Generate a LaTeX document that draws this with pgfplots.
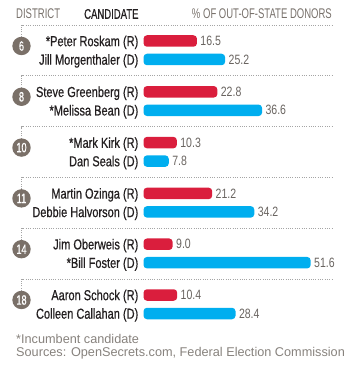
\documentclass[border=0pt]{standalone}
\usepackage{fontspec}
\setmainfont{Liberation Sans}
\newfontfamily\condn[FakeStretch=0.76,FakeBold=0.6]{Liberation Sans}
\newfontfamily\condh[FakeStretch=0.68]{Liberation Sans}
\newfontfamily\condhb[FakeStretch=0.68,FakeBold=0.6]{Liberation Sans}
\newfontfamily\condv[FakeStretch=0.78]{Liberation Sans}
\usepackage{pgfplots}
\pgfplotsset{compat=1.18}
\definecolor{rbar}{RGB}{218,30,61}
\definecolor{dbar}{RGB}{0,174,239}
\definecolor{circ}{RGB}{122,112,104}
\definecolor{namec}{RGB}{35,31,32}
\definecolor{valc}{RGB}{105,100,96}
\definecolor{hdrc}{RGB}{120,113,107}
\definecolor{dotc}{RGB}{165,165,165}
\definecolor{footc}{RGB}{135,130,125}
\begin{document}
\begin{tikzpicture}
\path[use as bounding box] (0,0) rectangle (356bp,368bp);
\begin{axis}[
 at={(0,0)}, anchor=south west,
 scale only axis, width=356bp, height=368bp,
 xmin=-44.29, xmax=65.59, ymin=0, ymax=368, y dir=reverse,
 hide axis, clip=false,
 xbar, bar width=11.5bp, bar shift=0pt,
 point meta=x,
 /pgf/number format/assume math mode=true,
 nodes near coords={\pgfmathprintnumber[fixed,fixed zerofill,precision=1]{\pgfplotspointmeta}},
 nodes near coords style={anchor=west, font=\condv\fontsize{13.5bp}{13.5bp}\selectfont, text=valc},
]
\addplot[fill=rbar, draw=none, rounded corners=3.5bp] coordinates {(16.5,41) (22.8,91.8) (10.3,142.6) (21.2,193.4) (9.0,244.2) (10.4,295)};
\addplot[fill=dbar, draw=none, rounded corners=3.5bp] coordinates {(25.2,59.5) (36.6,110.3) (7.8,161.1) (34.2,211.9) (51.6,262.7) (28.4,313.5)};
\end{axis}
\begin{scope}[x=1bp,y=-1bp,shift={(0bp,368bp)}]
\node[anchor=base west, inner sep=0, text=hdrc, font=\condh\fontsize{14bp}{14bp}\selectfont] at (16,18.8) {DISTRICT};
\node[anchor=base west, inner sep=0, text=namec, font=\condhb\fontsize{14bp}{14bp}\selectfont] at (84,18.8) {CANDIDATE};
\node[anchor=base east, inner sep=0, text=hdrc, font=\condh\fontsize{14bp}{14bp}\selectfont] at (332,18.8) {\% OF OUT-OF-STATE DONORS};
\foreach \ry/\d/\ra/\rb in {41/6/{*Peter Roskam (R)}/{Jill Morgenthaler (D)},
 91.8/8/{Steve Greenberg (R)}/{*Melissa Bean (D)},
 142.6/10/{*Mark Kirk (R)}/{Dan Seals (D)},
 193.4/11/{Martin Ozinga (R)}/{Debbie Halvorson (D)},
 244.2/14/{Jim Oberweis (R)}/{*Bill Foster (D)},
 295/18/{Aaron Schock (R)}/{Colleen Callahan (D)}}{
 \pgfmathsetmacro\yc{\ry+5}
 \pgfmathsetmacro\yd{\ry-16}
 \pgfmathsetmacro\yb{\ry+18.5}
 \draw[dotc, line width=0.6bp, dash pattern=on 1bp off 1.3bp] (21.5,\yc-9) -- (21.5,\yd) -- (332,\yd);
 \fill[circ] (21.5,\yc) circle (9.2);
 \node[text=white, inner sep=0, font=\condhb\fontsize{13.5bp}{13.5bp}\selectfont] at (21.5,\yc) {\d};
 \node[anchor=base east, inner sep=0, text=namec, font=\condn\fontsize{14.5bp}{14.5bp}\selectfont] at (138.5,\ry+5.2) {\ra};
 \node[anchor=base east, inner sep=0, text=namec, font=\condn\fontsize{14.5bp}{14.5bp}\selectfont] at (138.5,\yb+5.2) {\rb};
}
\node[anchor=base west, inner sep=0, text=footc, font=\fontsize{12.7bp}{14bp}\selectfont] at (16,343.5) {*Incumbent candidate};
\node[anchor=base west, inner sep=0, text=footc, font=\fontsize{12.7bp}{14bp}\selectfont] at (16,356.5) {Sources: OpenSecrets.com, Federal Election Commission};
\end{scope}
\end{tikzpicture}
\end{document}
